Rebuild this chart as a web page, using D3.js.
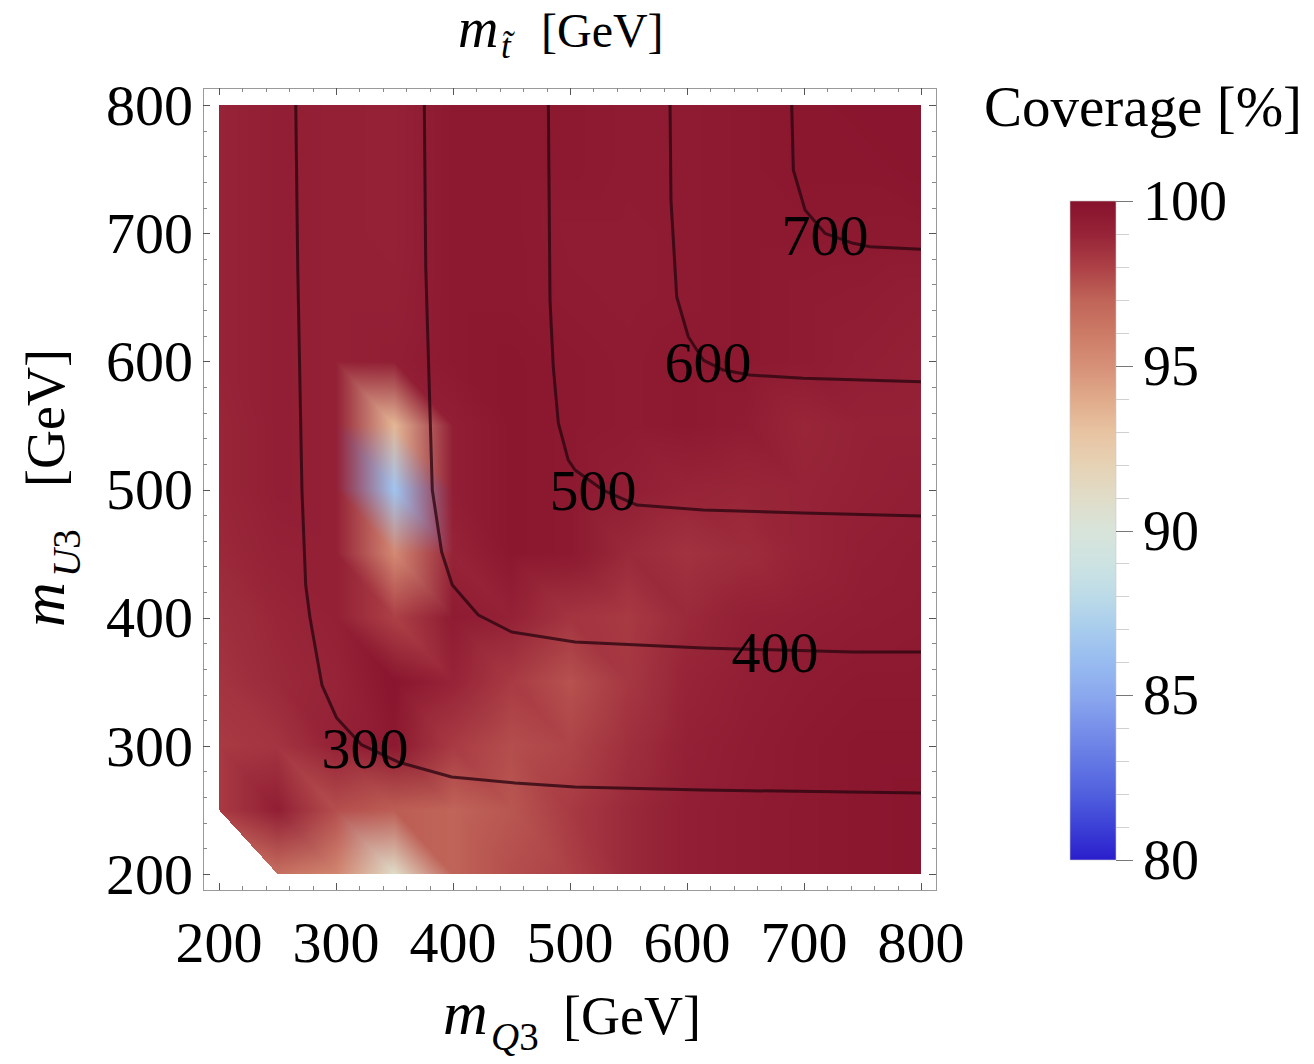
<!DOCTYPE html>
<html>
<head>
<meta charset="utf-8">
<script src="https://cdn.jsdelivr.net/npm/d3@7"></script>
<style>
  body { margin: 0; background: #fff; }
  svg text { font-family: "Liberation Serif", "Times New Roman", Times, serif; fill: #000; }
</style>
</head>
<body>
<svg id="chart" width="1314" height="1064" font-family="Liberation Serif"></svg>
<script>
// grid of mass points (GeV), same for mQ3 and mU3
const massGrid = [200, 250, 300, 350, 400, 450, 500, 550, 600, 650, 700, 750, 800];

// coverage [%], rows from mU3 = 800 (top) down to mU3 = 200 (bottom), columns mQ3 = 200..800
const coverage = [
  [99.0, 99.3, 99.2, 99.1, 99.6, 99.6, 99.6, 99.5, 99.5, 99.6, 99.7, 99.8, 99.8],
  [99.0, 99.3, 99.2, 99.1, 99.6, 99.6, 99.6, 99.5, 99.5, 99.6, 99.7, 99.7, 99.8],
  [99.0, 99.3, 99.2, 99.1, 99.6, 99.6, 99.4, 99.4, 99.5, 99.6, 99.6, 99.6, 99.6],
  [99.0, 99.3, 99.2, 99.2, 99.6, 99.6, 99.5, 99.4, 99.5, 99.6, 99.5, 99.4, 99.3],
  [99.0, 99.3, 99.2, 99.3, 99.6, 99.7, 99.6, 99.5, 99.6, 99.6, 99.5, 99.3, 99.2],
  [98.9, 99.3, 99.2, 93.5, 99.3, 99.7, 99.6, 99.5, 99.6, 99.4, 98.9, 99.1, 99.1],
  [98.9, 99.3, 99.2, 86.5, 99.3, 99.7, 99.6, 99.3, 99.0, 98.9, 99.0, 99.2, 99.3],
  [98.8, 99.1, 99.2, 95.3, 99.0, 99.7, 99.6, 98.8, 98.5, 98.7, 99.0, 99.3, 99.4],
  [98.6, 98.9, 99.2, 98.0, 99.5, 99.1, 98.4, 98.2, 98.8, 99.2, 99.3, 99.4, 99.5],
  [98.4, 98.8, 99.0, 99.8, 99.0, 98.2, 97.5, 98.3, 99.0, 99.3, 99.5, 99.6, 99.6],
  [98.2, 98.4, 99.1, 99.6, 98.2, 97.6, 97.9, 98.6, 99.2, 99.4, 99.6, 99.7, 99.7],
  [98.2, 99.3, 97.6, 97.2, 97.0, 97.4, 98.2, 98.8, 99.3, 99.5, 99.6, 99.7, 99.8],
  [null, 96.5, 95.5, 91.0, 97.0, 97.6, 98.0, 98.8, 99.3, 99.5, 99.6, 99.7, 99.8]
];

// colour map stops (coverage % -> colour)
const colorStops = [80, 81, 82, 83, 84, 85, 86, 87, 88, 89, 90, 91, 92, 93, 94, 95, 96, 97, 98, 99, 100];
const colorValues = ["#2a1ecc", "#3c40d6", "#5060de", "#6478e4", "#7890ea", "#8aa8ee", "#98bbf0",
  "#a8cced", "#bcdbe8", "#cde3e2", "#d8e4da", "#e0dcc8", "#e6d2b4", "#e8c3a2", "#e0aa8a",
  "#d69078", "#cc7a66", "#c06458", "#ac4046", "#962337", "#86122c"];

// stop mass contours, points as [mQ3, mU3]
const contourLevels = [300, 400, 500, 600, 700];
const contour300 = [[265.6, 800], [267.3, 673.6], [270.9, 499.6], [274.1, 425.5], [277.8, 399.7], [288.0, 347.4],
  [300.6, 321.7], [322.0, 300.7], [353.0, 287.4], [398.9, 275.7], [453.0, 271.0], [504.3, 267.9], [613.7, 265.5], [800, 263.2]];
const contour400 = [[375.5, 800], [376.7, 673.6], [382.3, 499.6], [390.3, 451.2], [399.4, 425.5], [421.6, 402.1],
  [450.2, 388.8], [504.3, 381.0], [613.7, 376.3], [741.9, 373.2], [800, 373.2]];
const contour500 = [[481.5, 800], [482.9, 647.9], [485.7, 595.6], [490.0, 551.9], [498.5, 523.0], [504.3, 515.2],
  [528.2, 499.6], [557.3, 487.9], [613.7, 484.0], [699.1, 481.7], [800, 479.3]];
const contour600 = [[585.5, 800], [586.3, 725.9], [591.2, 650.4], [601.1, 619.2], [613.9, 601.0], [631.0, 593.2],
  [653.8, 589.3], [699.4, 586.8], [800, 584.1]];
const contour700 = [[689.5, 800], [690.9, 749.3], [700.9, 718.1], [717.9, 699.9], [742.1, 692.1], [756.4, 689.4], [800, 687.4]];
const contourLines = [contour300, contour400, contour500, contour600, contour700];
const contourLabelPos = [[324.8, 298], [675.2, 373.2], [519.7, 499.6], [618, 599.5], [718, 698.6]];

const axisTicks = [200, 300, 400, 500, 600, 700, 800];
const barTicks = [80, 85, 90, 95, 100];

const svg = d3.select("#chart");

const x = d3.scaleLinear().domain([200, 800]).range([219, 921]);
const y = d3.scaleLinear().domain([200, 800]).range([874, 105]);
const colorScale = d3.scaleLinear().domain(colorStops).range(colorValues).interpolate(d3.interpolateRgb);

// ---- density: triangulated grid, colours blended across each triangle
const rowsUp = coverage.slice().reverse();   // rowsUp[k] is mU3 = massGrid[k]
const vertexColor = rowsUp.map(row => row.map(v => v == null ? null : d3.rgb(colorScale(v))));

const x0px = Math.round(x(200)), x1px = Math.round(x(800));
const y0px = Math.round(y(800)), y1px = Math.round(y(200));
const w = x1px - x0px, h = y1px - y0px;
const canvas = document.createElement("canvas");
canvas.width = w;
canvas.height = h;
const ctx = canvas.getContext("2d");
const img = ctx.createImageData(w, h);
const step = massGrid[1] - massGrid[0];
const n = massGrid.length - 1;

for (let j = 0; j < h; j++) {
  const my = y.invert(y0px + j + 0.5);
  let r = Math.floor((my - massGrid[0]) / step);
  r = Math.max(0, Math.min(n - 1, r));
  const v = (my - massGrid[r]) / step;
  for (let i = 0; i < w; i++) {
    const mx = x.invert(x0px + i + 0.5);
    let c = Math.floor((mx - massGrid[0]) / step);
    c = Math.max(0, Math.min(n - 1, c));
    const u = (mx - massGrid[c]) / step;
    const c00 = vertexColor[r][c], c10 = vertexColor[r][c + 1],
          c01 = vertexColor[r + 1][c], c11 = vertexColor[r + 1][c + 1];
    let col = null;
    if (u + v <= 1) {
      if (c00) {
        col = ["r", "g", "b"].map(k => c00[k] + u * (c10[k] - c00[k]) + v * (c01[k] - c00[k]));
      }
    } else {
      col = ["r", "g", "b"].map(k => c11[k] + (1 - v) * (c10[k] - c11[k]) + (1 - u) * (c01[k] - c11[k]));
    }
    const p = (j * w + i) * 4;
    if (col) {
      img.data[p] = col[0];
      img.data[p + 1] = col[1];
      img.data[p + 2] = col[2];
      img.data[p + 3] = 255;
    }
  }
}
ctx.putImageData(img, 0, 0);

svg.append("image")
  .attr("x", x0px).attr("y", y0px)
  .attr("width", w).attr("height", h)
  .attr("href", canvas.toDataURL());

// ---- contours
const line = d3.line().x(d => x(d[0])).y(d => y(d[1]));
svg.append("g")
  .selectAll("path")
  .data(contourLines)
  .join("path")
  .attr("d", line)
  .attr("fill", "none")
  .attr("stroke", "#2a0510")
  .attr("stroke-opacity", 0.78)
  .attr("stroke-width", 3)
  .attr("stroke-linejoin", "round");

svg.append("g")
  .selectAll("text")
  .data(contourLevels)
  .join("text")
  .attr("x", (d, i) => x(contourLabelPos[i][0]))
  .attr("y", (d, i) => y(contourLabelPos[i][1]))
  .attr("dy", "0.34em")
  .attr("text-anchor", "middle")
  .style("font-size", "58px")
  .text(d => d);

// ---- frame with ticks
const fx0 = 203, fx1 = 936, fy0 = 88, fy1 = 890;
svg.append("rect")
  .attr("x", fx0 + 0.5).attr("y", fy0 + 0.5)
  .attr("width", fx1 - fx0).attr("height", fy1 - fy0)
  .attr("fill", "none").attr("stroke", "#9a9a9a").attr("stroke-width", 1);

const minorTicks = d3.range(200, 801, 20);
const tickG = svg.append("g").attr("stroke-width", 1);
minorTicks.forEach(t => {
  const major = t % 100 === 0;
  const len = major ? 7 : 4;
  const col = major ? "#555" : "#888";
  const px = Math.round(x(t)) + 0.5, py = Math.round(y(t)) + 0.5;
  tickG.append("line").attr("x1", px).attr("x2", px).attr("y1", fy1).attr("y2", fy1 - len).attr("stroke", col);
  tickG.append("line").attr("x1", px).attr("x2", px).attr("y1", fy0).attr("y2", fy0 + len).attr("stroke", col);
  tickG.append("line").attr("y1", py).attr("y2", py).attr("x1", fx0).attr("x2", fx0 + len).attr("stroke", col);
  tickG.append("line").attr("y1", py).attr("y2", py).attr("x1", fx1).attr("x2", fx1 - len).attr("stroke", col);
});

svg.append("g")
  .selectAll("text")
  .data(axisTicks)
  .join("text")
  .attr("x", d => x(d))
  .attr("y", 962)
  .attr("text-anchor", "middle")
  .style("font-size", "58px")
  .text(d => d);

svg.append("g")
  .selectAll("text")
  .data(axisTicks)
  .join("text")
  .attr("x", 193)
  .attr("y", d => y(d))
  .attr("dy", "0.34em")
  .attr("text-anchor", "end")
  .style("font-size", "58px")
  .text(d => d);

// ---- axis labels
function massLabel(g, size, mSize, sub, subX, subDy, unitX) {
  g.append("text").attr("x", 0).attr("y", 0)
    .style("font-size", mSize + "px").style("font-style", "italic").text("m");
  const s = g.append("text").attr("x", subX).attr("y", subDy).style("font-size", Math.round(size * 0.72) + "px");
  sub.forEach(part => s.append("tspan").style("font-style", part.italic ? "italic" : "normal").text(part.t));
  g.append("text").attr("x", unitX).attr("y", 0).style("font-size", size + "px").text("[GeV]");
}

massLabel(svg.append("g").attr("transform", "translate(458,47)"), 48, 56,
  [{ t: "t̃", italic: true }], 43, 11, 83);
massLabel(svg.append("g").attr("transform", "translate(443,1034)"), 54, 62,
  [{ t: "Q", italic: true }, { t: "3", italic: false }], 48, 16, 120);
massLabel(svg.append("g").attr("transform", "translate(64,627) rotate(-90)"), 54, 62,
  [{ t: "U", italic: true }, { t: "3", italic: false }], 50, 16, 140);

// ---- colour bar
const cb = { x: 1070, y: 201, w: 46, h: 659 };
const cbScale = d3.scaleLinear().domain([80, 100]).range([cb.y + cb.h, cb.y]);
const grad = svg.append("defs").append("linearGradient")
  .attr("id", "cbgrad").attr("x1", 0).attr("y1", 1).attr("x2", 0).attr("y2", 0);
grad.selectAll("stop")
  .data(colorStops)
  .join("stop")
  .attr("offset", d => (d - 80) / 20)
  .attr("stop-color", d => colorScale(d));
svg.append("rect")
  .attr("x", cb.x).attr("y", cb.y).attr("width", cb.w).attr("height", cb.h)
  .attr("fill", "url(#cbgrad)").attr("stroke", "#c8c8c8").attr("stroke-width", 0.6);

const cbTicks = svg.append("g");
d3.range(80, 100.01, 1).forEach(t => {
  const major = t % 5 === 0;
  const py = Math.round(cbScale(t)) + 0.5;
  cbTicks.append("line")
    .attr("x1", cb.x + cb.w).attr("x2", cb.x + cb.w + (major ? 17 : 13))
    .attr("y1", py).attr("y2", py)
    .attr("stroke", major ? "#777" : "#d0d0d0").attr("stroke-width", 1);
});
svg.append("g")
  .selectAll("text")
  .data(barTicks)
  .join("text")
  .attr("x", 1143)
  .attr("y", d => cbScale(d))
  .attr("dy", "0.34em")
  .style("font-size", "56px")
  .text(d => d);

svg.append("text")
  .attr("x", 984).attr("y", 126)
  .style("font-size", "57px")
  .text("Coverage [%]");
</script>
</body>
</html>
